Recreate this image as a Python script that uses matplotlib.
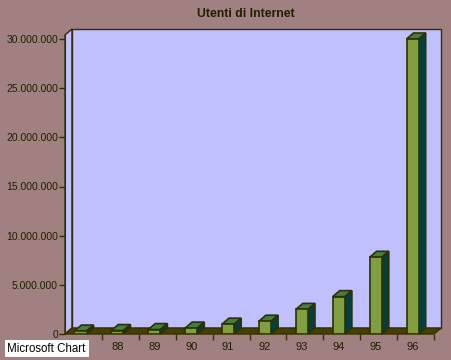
import numpy as np
import matplotlib
matplotlib.use("Agg")
import matplotlib.pyplot as plt
from matplotlib.patches import Polygon, Rectangle

# data
years = ["87", "88", "89", "90", "91", "92", "93", "94", "95", "96"]
users = [300000, 350000, 450000, 600000, 1000000, 1300000, 2500000, 3800000, 7800000, 30000000]
yticks = [0, 5000000, 10000000, 15000000, 20000000, 25000000, 30000000]

BG = "#a08080"
WALL = "#c0c0ff"
FLOOR = "#484000"
EDGE = "#303000"
FRONT = "#80a040"
TOP = "#408040"
SIDE = "#004040"

W, H = 451, 360
fig = plt.figure(figsize=(W / 100, H / 100), dpi=100, facecolor=BG)
ax = fig.add_axes([65 / W, (H - 334) / H, (434 - 65) / W, (334 - 35) / H])
ax.set_facecolor("none")
ymax = 30000000 * 299 / 295
ax.set_xlim(0, len(years))
ax.set_ylim(0, ymax)

# depth offset of the 3d look, 7 px right and 6 px up, in data units
inv = ax.transData.inverted()
p0 = ax.transData.transform((0, 0))
ddx, ddy = inv.transform(p0 + np.array([7, 6])) - inv.transform(p0)

n = len(years)
# walls and floor
ax.add_patch(Polygon([(0, 0), (0, ymax), (ddx, ymax + ddy), (ddx, ddy)],
                     fc=WALL, ec=EDGE, lw=1, clip_on=False, zorder=1))
ax.add_patch(Rectangle((ddx, ddy), n, ymax, fc=WALL, ec=EDGE, lw=1, clip_on=False, zorder=1))
ax.add_patch(Polygon([(0, 0), (n, 0), (n + ddx, ddy), (ddx, ddy)],
                     fc=FLOOR, ec=EDGE, lw=1, clip_on=False, zorder=2))

# bars
xc = np.arange(n) + 0.42
bw = 0.33
ax.bar(xc, users, width=bw, color=FRONT, edgecolor=EDGE, linewidth=1.2, zorder=4)
for x, v in zip(xc, users):
    x0, x1 = x - bw / 2, x + bw / 2
    ax.add_patch(Polygon([(x0, v), (x1, v), (x1 + ddx, v + ddy), (x0 + ddx, v + ddy)],
                         fc=TOP, ec=EDGE, lw=1.2, clip_on=False, zorder=3))
    ax.add_patch(Polygon([(x1, 0), (x1, v), (x1 + ddx, v + ddy), (x1 + ddx, ddy)],
                         fc=SIDE, ec=EDGE, lw=1.2, clip_on=False, zorder=3))

for s in ["top", "right", "bottom"]:
    ax.spines[s].set_visible(False)
ax.spines["left"].set_color(EDGE)
ax.spines["left"].set_zorder(5)

ax.set_yticks(yticks)
ax.set_yticklabels([f"{v:,}".replace(",", ".") for v in yticks],
                   fontsize=7.5, family="Liberation Sans", color="#202000")
ax.tick_params(axis="y", length=4, width=1, color=EDGE, pad=1)

ax.set_xticks(xc)
ax.set_xticklabels(years, fontsize=8, family="Liberation Sans", color="#202000")
ax.set_xticks(np.arange(1, n + 1), minor=True)
ax.tick_params(axis="x", which="major", length=0, pad=6)
ax.tick_params(axis="x", which="minor", length=4, width=1, color=EDGE)
# the first label sits under the "Microsoft Chart" tag, as in the original
ax.get_xticklabels()[0].set_visible(False)

fig.text(246 / W, 1 - 14 / H, "Utenti di Internet", ha="center", va="center",
         fontsize=8.8, fontweight="bold", family="Liberation Sans", color="#202000")

fig.patches.append(Rectangle((5 / W, 1 - 357 / H), 84 / W, 17 / H, transform=fig.transFigure,
                             fc="white", ec="none", zorder=10))
fig.text(7 / W, 1 - 348.5 / H, "Microsoft Chart", ha="left", va="center",
         fontsize=8.3, family="Liberation Sans", color="black", zorder=11)

fig.savefig("out.png", dpi=100, facecolor=BG)
